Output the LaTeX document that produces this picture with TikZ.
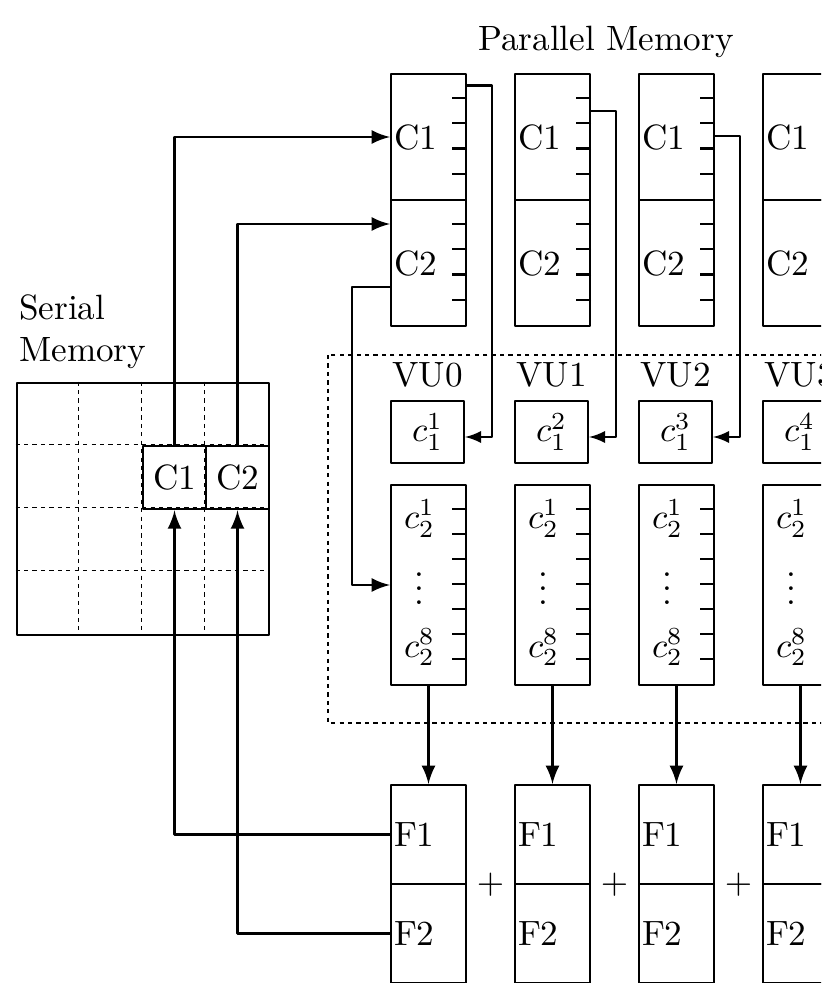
\documentclass[tikz,border=0pt]{standalone}
\usetikzlibrary{calc}
\tikzset{
  cell/.style={draw, semithick, minimum width=7.5mm, text width=6.9mm, inner xsep=0.3mm, align=left},
  vbox/.style={draw, semithick, minimum width=7.3mm, minimum height=6.2mm},
  grid/.style={thin, dash pattern=on 1.2pt off 1.2pt},
  link/.style={thick, ->},
  tap/.style={semithick, ->},
}
\begin{document}
\begin{tikzpicture}[x=0.1mm, y=-0.1mm, >=latex, line join=round]
	\clip (0,0) rectangle (821,983);
	\node (pm) at (606,42) {Parallel Memory};
	% vector units
	\draw[grid] (328,355) rectangle (900,723);
	\foreach \i/\n in {0/1,1/2,2/3,3/4} {
		\node[cell, minimum height=12.6mm] (c1-\i) at (428.5+124*\i,137) {C1};
		\node[cell, minimum height=12.6mm] (c2-\i) at (428.5+124*\i,263) {C2};
		\foreach \k in {1,...,4}
			\draw[semithick] (c1-\i.north east) ++(0,25.2*\k) -- ++(-15,0)
				(c2-\i.north east) ++(0,25.2*\k) -- ++(-15,0);
		\node[vbox, label={above:VU\i}] (v-\i) at (427.5+124*\i,432) {$c_1^{\n}$};
		\node[draw, semithick, minimum width=7.5mm, minimum height=20mm] (w-\i) at (428.5+124*\i,585) {};
		\node[align=center, xshift=-0.9mm, yshift=0.2mm] (wl-\i) at (w-\i.center) {$c_2^1$\\[3pt]$\vdots$\\[3pt]$c_2^8$};
		\foreach \k in {1,...,7}
			\draw[semithick] (w-\i.north east) ++(0,25*\k) -- ++(-15,0);
		\node[cell, minimum height=9.9mm] (f1-\i) at (428.5+124*\i,834.5) {F1};
		\node[cell, minimum height=9.9mm] (f2-\i) at (428.5+124*\i,933.5) {F2};
		\draw[tap] ($(c1-\i.north east)+(0,12.6+25.2*\i)$) -- ++(25,0) |- ([yshift=-0.5mm]v-\i.east);
		\draw[link] (w-\i.south) -- (f1-\i.north);
	}
	\foreach \i/\n in {0/1,1/2,2/3}
		\node (p-\i) at ($(f1-\i.south east)!0.5!(f1-\n.south west)$) {$+$};
	% serial memory
	\node[draw, thick, minimum size=25.2mm] (smem) at (143,509) {};
	\foreach \k in {1,2,3}
		\draw[grid] ($(smem.north west)+(63*\k,0)$) -- ($(smem.south west)+(63*\k,0)$)
			($(smem.north west)+(0,63*\k)$) -- ($(smem.north east)+(0,63*\k)$);
	\node[draw, thick, minimum size=6.3mm, inner sep=0pt] (sc1) at (174.5,477.5) {C1};
	\node[draw, thick, minimum size=6.3mm, inner sep=0pt] (sc2) at (237.5,477.5) {C2};
	\node[anchor=south west, align=left, inner xsep=0.3mm] (slab) at (smem.north west) {Serial\\Memory};
	\draw[link] (sc1.north) |- (c1-0.west);
	\draw[link] (sc2.north) |- ([yshift=3.9mm]c2-0.west);
	\draw[link] ([yshift=-2.4mm]c2-0.west) -- ++(-38,0) |- (w-0.west);
	\draw[link] (f1-0.west) -| (sc1.south);
	\draw[link] (f2-0.west) -| (sc2.south);
\end{tikzpicture}
\end{document}
